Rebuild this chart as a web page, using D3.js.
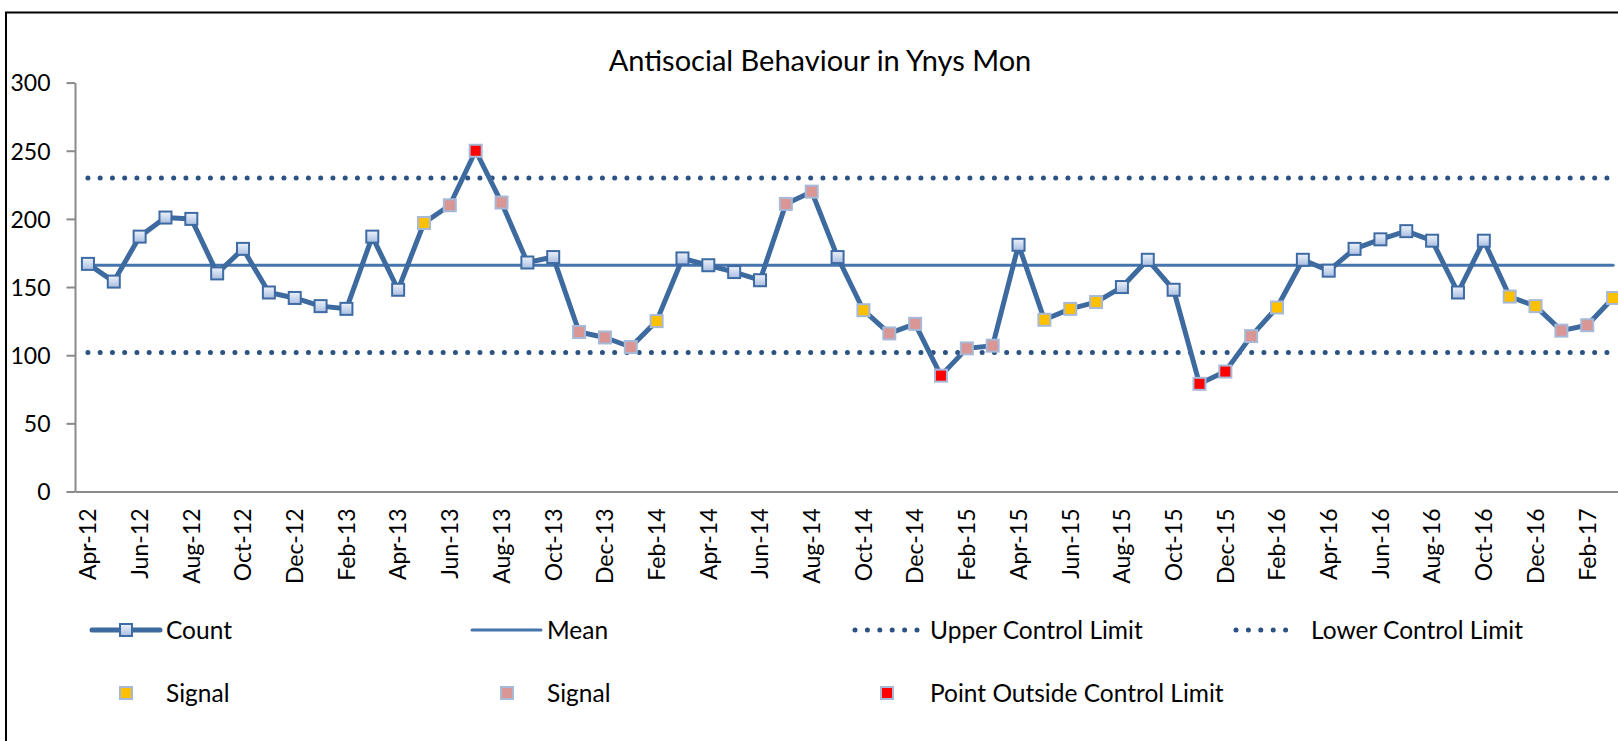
<!DOCTYPE html>
<meta charset="utf-8">
<style>
  body { margin: 0; background: #fff; }
  svg { display: block; font-family: Lato, "Open Sans", sans-serif; }
  .axis path, .axis line { stroke: #8a8a8a; stroke-width: 2px; }
  .axis text { fill: #000; font-size: 23px; font-family: Lato, "Open Sans", sans-serif; }
</style>
<body>
<script src="https://d3js.org/d3.v7.min.js"></script>
<script>
// monthly counts, Apr-12 .. Mar-17
var months = ["Apr-12","May-12","Jun-12","Jul-12","Aug-12","Sep-12","Oct-12","Nov-12","Dec-12","Jan-13","Feb-13","Mar-13",
  "Apr-13","May-13","Jun-13","Jul-13","Aug-13","Sep-13","Oct-13","Nov-13","Dec-13","Jan-14","Feb-14","Mar-14",
  "Apr-14","May-14","Jun-14","Jul-14","Aug-14","Sep-14","Oct-14","Nov-14","Dec-14","Jan-15","Feb-15","Mar-15",
  "Apr-15","May-15","Jun-15","Jul-15","Aug-15","Sep-15","Oct-15","Nov-15","Dec-15","Jan-16","Feb-16","Mar-16",
  "Apr-16","May-16","Jun-16","Jul-16","Aug-16","Sep-16","Oct-16","Nov-16","Dec-16","Jan-17","Feb-17","Mar-17"];

var counts = [167,154,187,201,200,160,178,146,142,136,134,187,
  148,197,210,250,212,168,172,117,113,106,125,171,
  166,161,155,211,220,172,133,116,123,85,105,107,
  181,126,134,139,150,170,148,79,88,114,135,170,
  162,178,185,191,184,146,184,143,136,118,122,142];

// n = normal, y = signal (yellow), p = signal (pink), r = outside control limit
var signals = ["n","n","n","n","n","n","n","n","n","n","n","n",
  "n","y","p","r","p","n","n","p","p","p","y","n",
  "n","n","n","p","p","n","y","p","p","r","p","p",
  "n","y","y","y","n","n","n","r","r","p","y","n",
  "n","n","n","n","n","n","n","y","y","p","p","y"];

var meanValue = 166, upperLimit = 230, lowerLimit = 102;
var yTicks = [0, 50, 100, 150, 200, 250, 300];

var width = 1618, height = 741;
var plotLeft = 75, band = 25.85, plotTop = 82.6, plotBottom = 491.5;

var lineBlue = "#3d6a9f", meanBlue = "#4674ae", dotBlue = "#2a5282";
var fills = {y: "#ffc000", p: "#d99694", r: "#ff0000"};

var svg = d3.select("body").append("svg")
    .attr("width", width)
    .attr("height", height);

var defs = svg.append("defs");
var grad = defs.append("linearGradient").attr("id", "mk").attr("x1", 0).attr("y1", 0).attr("x2", 0).attr("y2", 1);
grad.append("stop").attr("offset", "0%").attr("stop-color", "#eef3fa");
grad.append("stop").attr("offset", "100%").attr("stop-color", "#a9bee2");

// outer chart border (left and top visible)
svg.append("path")
  .attr("d", "M6," + height + "V12.5H" + width)
  .attr("fill", "none")
  .attr("stroke", "#000")
  .attr("stroke-width", 2);

var x = d3.scaleBand().domain(months).range([plotLeft, plotLeft + band * months.length]);
var y = d3.scaleLinear().domain([0, 300]).range([plotBottom, plotTop]);
var cx = function(m) { return x(m) + x.bandwidth() / 2; };

// title
svg.append("text")
  .attr("x", 820)
  .attr("y", 71)
  .attr("text-anchor", "middle")
  .style("font-size", "29px")
  .text("Antisocial Behaviour in Ynys Mon");

// axes
svg.append("g").attr("class", "axis")
  .attr("transform", "translate(" + plotLeft + ",0)")
  .call(d3.axisLeft(y).tickValues(yTicks).tickSize(8.5).tickPadding(16).tickSizeOuter(0))
  .selectAll("text").attr("dy", "0.36em");

var xAxis = svg.append("g").attr("class", "axis")
  .attr("transform", "translate(0," + plotBottom + ")")
  .call(d3.axisBottom(x).tickValues(months.filter(function(d, i) { return i % 2 === 0; })).tickSize(0).tickSizeOuter(0));
xAxis.selectAll("text")
  .attr("transform", "rotate(-90)")
  .attr("text-anchor", "end")
  .attr("x", -17)
  .attr("y", 0)
  .attr("dy", "0.36em");

// control limits
var first = cx(months[0]), last = cx(months[months.length - 1]);
[upperLimit, lowerLimit].forEach(function(v) {
  svg.append("line")
    .attr("x1", first).attr("x2", last)
    .attr("y1", y(v)).attr("y2", y(v))
    .attr("stroke", dotBlue)
    .attr("stroke-width", 5)
    .attr("stroke-linecap", "round")
    .attr("stroke-dasharray", "0 12.25");
});

svg.append("line")
  .attr("x1", first).attr("x2", last)
  .attr("y1", y(meanValue)).attr("y2", y(meanValue))
  .attr("stroke", meanBlue)
  .attr("stroke-width", 3)
  .attr("stroke-linecap", "round");

// count line
var data = months.map(function(m, i) { return {m: m, v: counts[i], s: signals[i]}; });
svg.append("path")
  .datum(data)
  .attr("fill", "none")
  .attr("stroke", lineBlue)
  .attr("stroke-width", 5)
  .attr("stroke-linejoin", "round")
  .attr("d", d3.line().x(function(d) { return cx(d.m); }).y(function(d) { return y(d.v); }));

// markers
svg.append("g").selectAll("rect")
  .data(data)
  .join("rect")
  .attr("x", function(d) { return cx(d.m) - 6; })
  .attr("y", function(d) { return y(d.v) - 6; })
  .attr("width", 12)
  .attr("height", 12)
  .attr("fill", function(d) { return d.s === "n" ? "url(#mk)" : fills[d.s]; })
  .attr("stroke", function(d) { return d.s === "n" ? "#3e6ba3" : "#a7b9d7"; })
  .attr("stroke-width", 2);

// legend
var leg = svg.append("g").style("font-size", "24.5px");
var row1 = 630, row2 = 693;
function legText(xp, yp, t) {
  leg.append("text").attr("x", xp).attr("y", yp).attr("dy", "0.36em").text(t);
}
function legMarker(xp, yp, fill, stroke) {
  leg.append("rect").attr("x", xp - 6).attr("y", yp - 6).attr("width", 12).attr("height", 12)
    .attr("fill", fill).attr("stroke", stroke).attr("stroke-width", 2);
}
leg.append("line").attr("x1", 92).attr("x2", 160).attr("y1", row1).attr("y2", row1)
  .attr("stroke", lineBlue).attr("stroke-width", 5).attr("stroke-linecap", "round");
legMarker(126, row1, "url(#mk)", "#3e6ba3");
legText(166, row1, "Count");

leg.append("line").attr("x1", 472).attr("x2", 541).attr("y1", row1).attr("y2", row1)
  .attr("stroke", meanBlue).attr("stroke-width", 3).attr("stroke-linecap", "round");
legText(547, row1, "Mean");

[[855, "Upper Control Limit"], [1236, "Lower Control Limit"]].forEach(function(e) {
  leg.append("line").attr("x1", e[0]).attr("x2", e[0] + 62).attr("y1", row1).attr("y2", row1)
    .attr("stroke", dotBlue).attr("stroke-width", 5).attr("stroke-linecap", "round")
    .attr("stroke-dasharray", "0 12.4");
  legText(e[0] + 75, row1, e[1]);
});

legMarker(126, row2, fills.y, "#a7b9d7");
legText(166, row2, "Signal");
legMarker(507, row2, fills.p, "#a7b9d7");
legText(547, row2, "Signal");
legMarker(887, row2, fills.r, "#a7b9d7");
legText(930, row2, "Point Outside Control Limit");
</script>
</body>
